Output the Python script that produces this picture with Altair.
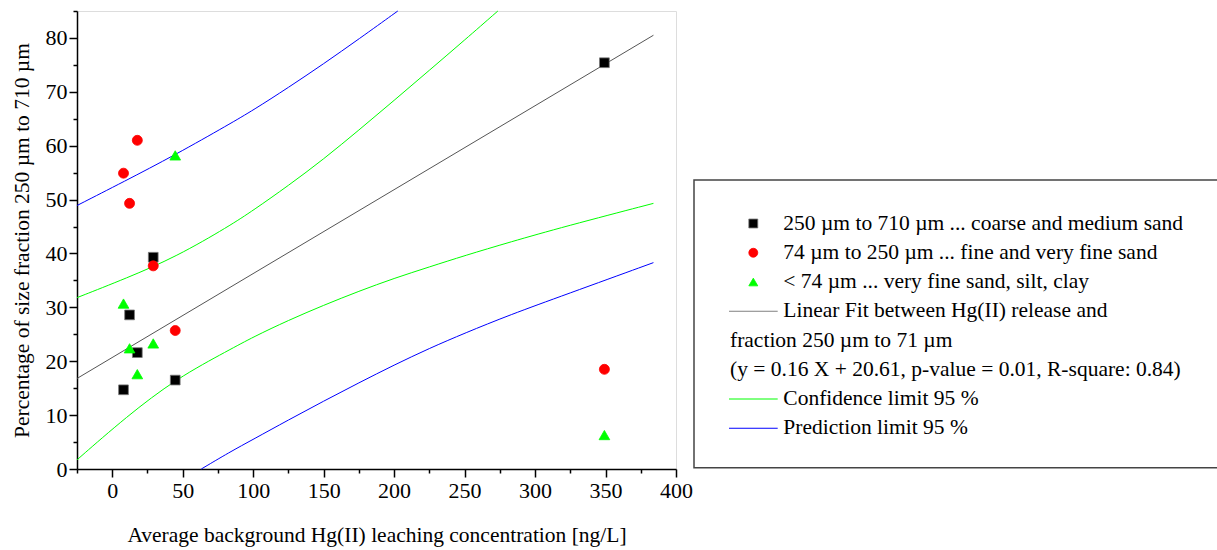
import altair as alt
import pandas as pd

# ---- data ----
conc = [8.0, 12.3, 17.8, 29.1, 44.7, 349.2]
coarse = [14.7, 28.6, 21.6, 39.3, 16.5, 75.4]
fine = [54.9, 49.3, 61.0, 37.7, 25.7, 18.5]
silt = [30.7, 22.4, 17.6, 23.3, 58.2, 6.3]

fit_x = [-25, 384]
fit_y = [16.8, 80.5]

conf_up_x = [-25, 10, 45.5, 83.1, 100, 125, 150, 175, 200, 225, 250, 273.6]
conf_up_y = [31.8, 35.4, 39.4, 45.1, 48.0, 52.6, 57.5, 62.9, 68.4, 74.0, 79.6, 85.0]
conf_lo_x = [-25, 10, 45.5, 83.1, 100, 125, 150, 175, 200, 225, 250, 282, 321, 384]
conf_lo_y = [1.7, 9.7, 16.8, 22.1, 24.5, 27.6, 30.4, 33.0, 35.4, 37.5, 39.6, 42.1, 45.0, 49.3]

pred_up_x = [-25, 8, 44.7, 83.1, 100, 125, 150, 175, 202.6]
pred_up_y = [48.9, 53.3, 58.3, 64.0, 66.6, 70.8, 75.2, 79.8, 85.0]
pred_lo_x = [63.2, 83.1, 100, 125, 150, 175, 200, 225, 250, 282, 321, 384]
pred_lo_y = [0.0, 3.1, 5.5, 9.1, 12.6, 16.0, 19.3, 22.4, 25.2, 28.6, 32.3, 38.3]

x_ticks = [0, 50, 100, 150, 200, 250, 300, 350, 400]
x_minor = [-25, 25, 75, 125, 175, 225, 275, 325, 375]
y_ticks = [0, 10, 20, 30, 40, 50, 60, 70, 80]
y_minor = [5, 15, 25, 35, 45, 55, 65, 75, 85]

groups = ["250 µm to 710 µm ... coarse and medium sand",
          "74 µm to 250 µm ... fine and very fine sand",
          "< 74 µm ... very fine sand, silt, clay"]
legend_rows = [groups[0], groups[1], groups[2],
               "Linear Fit between Hg(II) release and",
               "fraction 250 µm to 71 µm",
               "(y = 0.16 X + 20.61, p-value = 0.01, R-square: 0.84)",
               "Confidence limit 95 %",
               "Prediction limit 95 %"]

FONT = "Liberation Serif"
W, H = 599, 458
xs = alt.Scale(domain=[-25, 400], nice=False, zero=False)
ys = alt.Scale(domain=[0, 85], nice=False, zero=False)

main_x = alt.Axis(values=x_ticks, orient="bottom", grid=False, tickSize=8, tickWidth=1.5,
                  domainWidth=1.5, domainColor="black", tickColor="black",
                  labelFont=FONT, labelFontSize=22, labelColor="black", labelPadding=3,
                  labelFlush=False, labelOverlap=False,
                  title="Average background Hg(II) leaching concentration [ng/L]",
                  titleFont=FONT, titleFontSize=21.5, titleFontWeight="normal", titleColor="black",
                  titleBaseline="alphabetic", titleY=72.5)
main_y = alt.Axis(values=y_ticks, orient="left", grid=False, tickSize=8, tickWidth=1.5,
                  domainWidth=1.5, domainColor="black", tickColor="black",
                  labelFont=FONT, labelFontSize=22, labelColor="black", labelPadding=2,
                  labelFlush=False, labelOverlap=False,
                  title="Percentage of size fraction 250 µm to 710 µm",
                  titleFont=FONT, titleFontSize=21.5, titleFontWeight="normal", titleColor="black",
                  titleBaseline="alphabetic", titleX=-49)
minor_x = alt.Axis(values=x_minor, orient="bottom", grid=False, tickSize=4, tickWidth=1.5,
                   tickColor="black", domain=False, labels=False)
minor_y = alt.Axis(values=y_minor, orient="left", grid=False, tickSize=4, tickWidth=1.5,
                   tickColor="black", domain=False, labels=False)

layers = []

# curves
for xs_, ys_, col in [(fit_x, fit_y, "#555555"),
                      (conf_up_x, conf_up_y, "#00ff00"), (conf_lo_x, conf_lo_y, "#00ff00"),
                      (pred_up_x, pred_up_y, "#0000ff"), (pred_lo_x, pred_lo_y, "#0000ff")]:
    df = pd.DataFrame({"x": xs_, "y": ys_, "o": list(range(len(xs_)))})
    layers.append(alt.Chart(df).mark_line(strokeWidth=1, color=col, interpolate="basis").encode(
        x=alt.X("x:Q", scale=xs, axis=None),
        y=alt.Y("y:Q", scale=ys, axis=None),
        order="o:Q"))

# scatter points
shapes = ["square", "circle", "triangle-up"]
colors = ["#000000", "#ff0000", "#00ff00"]
sizes = [95, 100, 115]
for i, vals in enumerate([coarse, fine, silt]):
    df = pd.DataFrame({"x": conc, "y": vals, "g": [groups[i]] * len(conc)})
    ax_x = main_x if i == 0 else None
    ax_y = main_y if i == 0 else None
    stroke = "#777777" if i == 0 else colors[i]
    layers.append(alt.Chart(df).mark_point(filled=True, opacity=1, size=sizes[i], shape=shapes[i],
                                            fill=colors[i], stroke=stroke, strokeWidth=0.8).encode(
        x=alt.X("x:Q", scale=xs, axis=ax_x),
        y=alt.Y("y:Q", scale=ys, axis=ax_y)))

# minor ticks
allpts = pd.DataFrame({"x": conc, "y": coarse})
layers.append(alt.Chart(allpts).mark_point(opacity=0).encode(
    x=alt.X("x:Q", scale=xs, axis=minor_x, title=None),
    y=alt.Y("y:Q", scale=ys, axis=minor_y, title=None)))

# ---- hand-made legend (positions relative to the plot origin) ----
one = pd.DataFrame({"k": [0]})
layers.append(alt.Chart(one).mark_rect(fillOpacity=0, stroke="#444444", strokeWidth=1.5).encode(
    x=alt.value(617), x2=alt.value(1160), y=alt.value(169), y2=alt.value(456.7)))

row_y = [212.5 + 29.25 * i for i in range(8)]
for i in range(3):
    stroke = "#777777" if i == 0 else colors[i]
    layers.append(alt.Chart(one).mark_point(filled=True, opacity=1, size=80, shape=shapes[i],
                                             fill=colors[i], stroke=stroke, strokeWidth=0.8).encode(
        x=alt.value(676.3), y=alt.value(row_y[i])))
for i, col in [(3, "#808080"), (6, "#00ff00"), (7, "#0000ff")]:
    layers.append(alt.Chart(one).mark_rule(color=col, strokeWidth=1).encode(
        x=alt.value(652), x2=alt.value(700.7), y=alt.value(row_y[i])))
for i, txt in enumerate(legend_rows):
    xpos = 653 if i in (4, 5) else 706.3
    layers.append(alt.Chart(one).mark_text(text=txt, font=FONT, fontSize=21.5, align="left",
                                            baseline="middle", color="black").encode(
        x=alt.value(xpos), y=alt.value(row_y[i])))

chart = alt.layer(*layers).resolve_axis(
    x="independent", y="independent"
).properties(
    width=W, height=H,
    autosize=alt.AutoSizeParams(type="none"),
    padding={"left": 77, "top": 11, "right": 541, "bottom": 81},
).configure_view(stroke=None).configure_axis(
    labelFont=FONT, titleFont=FONT
).configure(background="white")

chart.save("out.html", embed_options={"renderer": "svg", "actions": False})
